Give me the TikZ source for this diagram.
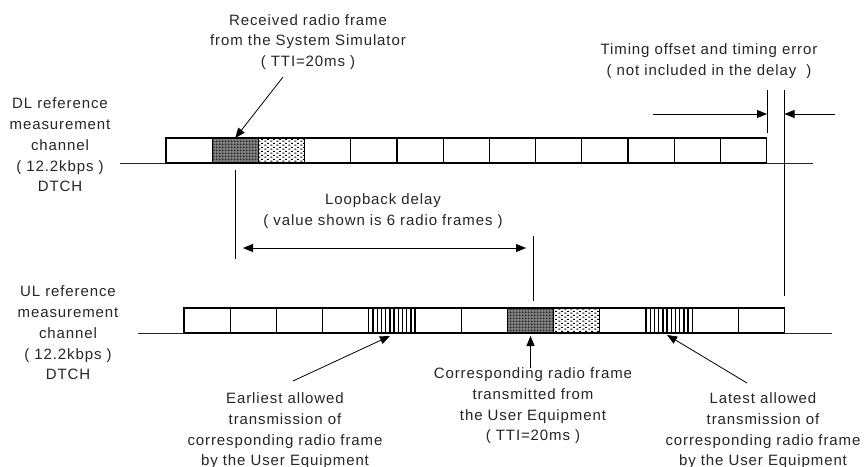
\documentclass[tikz,border=0pt]{standalone}
\usepackage{fontspec}
\setmainfont{Liberation Sans}[LetterSpace=6]
\usetikzlibrary{arrows.meta,patterns}
\pgfdeclarepatternformonly{fdots}{\pgfpointorigin}{\pgfpoint{6pt}{4pt}}{\pgfpoint{6pt}{4pt}}{%
  \pgfpathrectangle{\pgfpoint{0.5pt}{0.5pt}}{\pgfpoint{2.2pt}{1.2pt}}%
  \pgfpathrectangle{\pgfpoint{3.5pt}{2.5pt}}{\pgfpoint{2.2pt}{1.2pt}}%
  \pgfusepath{fill}}
\pgfdeclarepatternformonly{fgrid}{\pgfpointorigin}{\pgfpoint{3pt}{3pt}}{\pgfpoint{3pt}{3pt}}{%
  \pgfsetlinewidth{1pt}%
  \pgfpathmoveto{\pgfpoint{0pt}{0pt}}\pgfpathlineto{\pgfpoint{3pt}{0pt}}%
  \pgfpathmoveto{\pgfpoint{0pt}{0pt}}\pgfpathlineto{\pgfpoint{0pt}{3pt}}%
  \pgfusepath{stroke}}
\begin{document}
\begin{tikzpicture}[x=1pt,y=-1pt,
  fr/.style={draw=black, line width=1.2pt, minimum width=46.2pt, minimum height=25pt,
    inner sep=0pt, outer sep=0pt, anchor=south west},
  frdark/.style={fr, preaction={fill=black!50}, pattern=fgrid},
  frdots/.style={fr, preaction={fill=white}, pattern=fdots},
  frstripes/.style={fr, path picture={
      \foreach \k in {1,...,10}
        \draw[line width=1.4pt] ([xshift=\k*4.2pt]path picture bounding box.south west)
          -- ([xshift=\k*4.2pt]path picture bounding box.north west);}},
  base/.style={draw=black!85, line width=1pt},
  vline/.style={draw=black, line width=0.8pt},
  arr/.style={draw=black, line width=0.8pt, -{Triangle[length=10pt,width=8pt]}},
  darr/.style={draw=black, line width=0.8pt, {Triangle[length=10pt,width=8pt]}-{Triangle[length=10pt,width=8pt]}},
  lbl/.style={align=center, font=\fontsize{15pt}{20.7pt}\selectfont, inner sep=0pt, text=black!85}]
\useasboundingbox (0,0) rectangle (865,466);
\fill[white] (0,0) rectangle (865,466);

% baselines
\coordinate (dlb0) at (120,163); \coordinate (dlb1) at (813,163);
\coordinate (ulb0) at (138,333); \coordinate (ulb1) at (832,333);
\draw[base] (dlb0) -- (dlb1);
\draw[base] (ulb0) -- (ulb1);

% DL frames
\foreach \i/\s in {0/fr,1/frdark,2/frdots,3/fr,4/fr,5/fr,6/fr,7/fr,8/fr,9/fr,10/fr,11/fr,12/fr}
  \node[\s] (d\i) at ({166+\i*46.2},163) {};
% UL frames
\foreach \i/\s in {0/fr,1/fr,2/fr,3/fr,4/frstripes,5/fr,6/fr,7/frdark,8/frdots,9/fr,10/frstripes,11/fr,12/fr}
  \node[\s] (u\i) at ({184+\i*46.2},333) {};

% labels
\node[lbl] (dl) at (60,145) {DL reference\\measurement\\channel\\( 12.2kbps )\\DTCH};
\node[lbl] (ul) at (68,333) {UL reference\\measurement\\channel\\( 12.2kbps )\\DTCH};
\node[lbl] (recv) at (308,42) {Received radio frame\\from the System Simulator\\( TTI=20ms )};
\node[lbl] (timing) at (709,61) {Timing offset and timing error\\( not included in the delay~ )};
\node[lbl] (loop) at (383,211) {Loopback delay\\( value shown is 6 radio frames )};
\node[lbl] (earl) at (285,431) {Earliest allowed\\transmission of\\corresponding radio frame\\by the User Equipment};
\node[lbl] (corr) at (533,406) {Corresponding radio frame\\transmitted from\\the User Equipment\\( TTI=20ms )};
\node[lbl] (late) at (763,431) {Latest allowed\\transmission of\\corresponding radio frame\\by the User Equipment};

% pointer arrows
\coordinate (rs) at (283,77);
\draw[arr] (rs) -- (d1.north);
\coordinate (es) at (293,381);
\draw[arr] (es) -- ([shift={(-2,3)}]u4.south);
\coordinate (cs) at (530.6,368);
\draw[arr] (cs) -- ([shift={(0,3)}]u7.south);
\coordinate (ls) at (747,383);
\draw[arr] (ls) -- ([shift={(-2,2)}]u10.south);

% loopback
\coordinate (la) at (235.8,170); \coordinate (lb) at (235.8,259);
\coordinate (ra) at (533,236); \coordinate (rb) at (533,301);
\draw[vline] (la) -- (lb);
\draw[vline] (ra) -- (rb);
\coordinate (lpl) at (243,248); \coordinate (lpr) at (526,248);
\draw[darr] (lpl) -- (lpr);

% timing offset
\coordinate (t1a) at (767,90); \coordinate (t1b) at (767,133);
\coordinate (t2a) at (784.5,90); \coordinate (t2b) at (784.5,296);
\draw[vline] (t1a) -- (t1b);
\draw[vline] (t2a) -- (t2b);
\coordinate (tal) at (653,114); \coordinate (tat) at (767,114);
\coordinate (tbr) at (835,114); \coordinate (tbt) at (784.5,114);
\draw[arr] (tal) -- (tat);
\draw[arr] (tbr) -- (tbt);
\end{tikzpicture}
\end{document}
